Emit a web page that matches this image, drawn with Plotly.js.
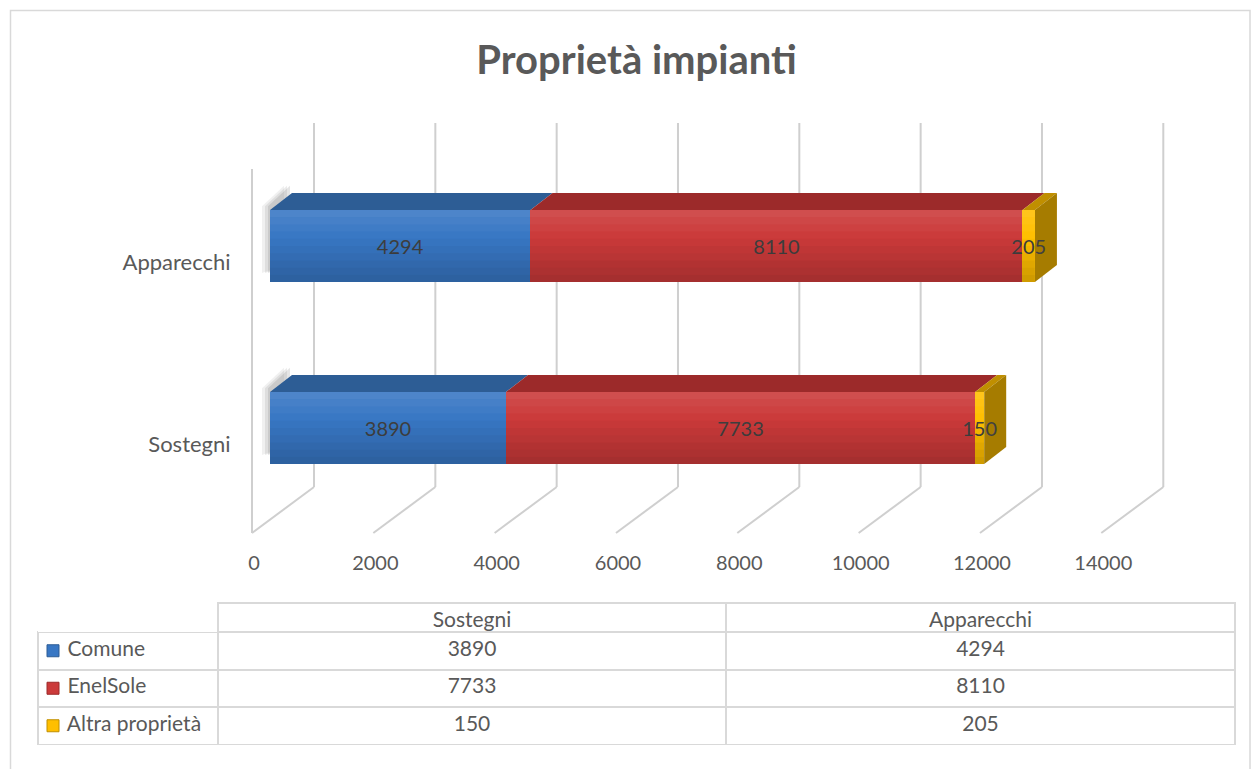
<!DOCTYPE html>
<html>
<head>
<meta charset="utf-8">
<script src="https://cdn.plot.ly/plotly-3.0.1.min.js"></script>
<style>
  html, body { margin: 0; padding: 0; background: #ffffff; }
  #chart { width: 1253px; height: 769px; }
</style>
</head>
<body>
<div id="chart"></div>
<script>
// ---------- data ----------
const categories = ['Sostegni', 'Apparecchi'];
const seriesNames = ['Comune', 'EnelSole', 'Altra proprietà'];
const comune = [3890, 4294];
const enelSole = [7733, 8110];
const altra = [150, 205];
const tickValues = [0, 2000, 4000, 6000, 8000, 10000, 12000, 14000];

// ---------- styling ----------
const W = 1253, H = 769;
const FONT = 'Lato, "Open Sans", sans-serif';
const TXT = '#595959';
const frontColors = ['#3877c4', '#cb3a3a', '#ffbf00'];
const topColors = ['#2d5d95', '#9c2a2a', '#c08f00'];
const sideColor = '#a67c00';
const gridColor = '#cfcfcf';

const px = p => p / W;
const py = p => 1 - p / H;

// plot geometry (pixels)
const ZERO_PX = 270;                    // value 0 on the front plane
const SCALE = 849.3 / 14000;            // px per unit
const R0 = -600, R1 = 15200;            // axis range (extra room for the 3D box)
const Y_TOP = 155, Y_BOT = 519;         // category band
const barWidth = 0.396;
const depthPx = 22, depthPy = 17;
const depthX = depthPx / SCALE;
const depthY = depthPy * 2 / (Y_BOT - Y_TOP);

const seriesValues = [comune, enelSole, altra];

const traces = seriesValues.map((vals, s) => ({
  type: 'bar',
  orientation: 'h',
  name: seriesNames[s],
  y: categories,
  x: vals,
  width: barWidth,
  marker: { color: frontColors[s], line: { width: 0 } },
  text: vals.map(String),
  textposition: 'inside',
  insidetextanchor: 'middle',
  textangle: 0,
  constraintext: 'none',
  textfont: { family: FONT, size: 20, color: '#404040' },
  hoverinfo: 'none',
  showlegend: false
}));

const shapes = [];
// back wall grid lines + floor diagonals
tickValues.forEach(v => {
  shapes.push({
    type: 'line', xref: 'x', xsizemode: 'pixel', xanchor: v, x0: 44, x1: 44,
    yref: 'paper', y0: py(487), y1: py(123), layer: 'below',
    line: { color: gridColor, width: 2 }
  });
  shapes.push({
    type: 'line', xref: 'x', xsizemode: 'pixel', xanchor: v, x0: 44, x1: -18,
    yref: 'paper', y0: py(487), y1: py(533), layer: 'below',
    line: { color: gridColor, width: 2 }
  });
});
// left wall edge
shapes.push({
  type: 'line', xref: 'x', xsizemode: 'pixel', xanchor: 0, x0: -18, x1: -18,
  yref: 'paper', y0: py(533), y1: py(169), layer: 'below',
  line: { color: gridColor, width: 2 }
});

// 3D faces (top faces + right end face) and shading, computed from data
const STRIPS = 10;
categories.forEach((c, i) => {
  let start = 0;
  const yTop = i + barWidth / 2, yBot = i - barWidth / 2;
  // soft shadow at the left end
  [[8, 0.10], [5, 0.14], [2, 0.18]].forEach(([off, a]) => {
    const o = off / SCALE;
    shapes.push({
      type: 'path', xref: 'x', yref: 'y', layer: 'below',
      path: `M ${-o} ${yBot + 0.05} L ${-o} ${yTop + 0.02} L ${depthX - o} ${yTop + depthY + 0.04} L ${depthX - o} ${yBot + depthY} Z`,
      fillcolor: `rgba(110,110,110,${a})`, line: { width: 0 }
    });
  });
  seriesValues.forEach((vals, s) => {
    const a = start, b = start + vals[i];
    shapes.push({
      type: 'path', xref: 'x', yref: 'y', layer: 'below',
      path: `M ${a} ${yTop} L ${b} ${yTop} L ${b + depthX} ${yTop + depthY} L ${a + depthX} ${yTop + depthY} Z`,
      fillcolor: topColors[s], line: { width: 0 }
    });
    start = b;
  });
  shapes.push({
    type: 'path', xref: 'x', yref: 'y', layer: 'below',
    path: `M ${start} ${yBot} L ${start} ${yTop} L ${start + depthX} ${yTop + depthY} L ${start + depthX} ${yBot + depthY} Z`,
    fillcolor: sideColor, line: { width: 0 }
  });
  // vertical shading of the front faces (light at top, darker at bottom)
  for (let k = 0; k < STRIPS; k++) {
    const t = (k + 0.5) / STRIPS;           // 0 = top, 1 = bottom
    const shade = 0.12 - 0.32 * t;
    const fill = shade >= 0 ? `rgba(255,255,255,${shade.toFixed(3)})`
                            : `rgba(0,0,0,${(-shade).toFixed(3)})`;
    shapes.push({
      type: 'rect', xref: 'x', yref: 'y', layer: 'above',
      x0: 0, x1: start,
      y0: yTop - barWidth * k / STRIPS, y1: yTop - barWidth * (k + 1) / STRIPS,
      fillcolor: fill, line: { width: 0 }
    });
  }
});

// outer chart border
shapes.push({
  type: 'rect', xref: 'paper', yref: 'paper',
  x0: px(10.5), x1: px(1250), y0: py(775), y1: py(10.5),
  line: { color: '#d9d9d9', width: 1.5 }, fillcolor: 'rgba(0,0,0,0)', layer: 'below'
});

// data table
const T_TOP = 603, HEAD_H = 29, ROW_H = 37.5;
const T_BOT = T_TOP + HEAD_H + ROW_H * seriesNames.length;
const tableTrace = {
  type: 'table',
  domain: { x: [px(38), px(1235)], y: [py(T_BOT + 1), py(T_TOP)] },
  columnwidth: [180, 508, 509],
  header: {
    values: [''].concat(categories),
    align: ['left', 'center', 'center'],
    height: HEAD_H,
    fill: { color: '#ffffff' },
    line: { color: ['rgba(255,255,255,0)', '#d9d9d9', '#d9d9d9'], width: 2 },
    font: { family: FONT, size: 21, color: TXT }
  },
  cells: {
    values: [seriesNames.map(n => '\u00a0\u00a0\u00a0\u00a0' + n)].concat(
      categories.map((c, i) => seriesValues.map(v => String(v[i])))),
    align: ['left', 'center', 'center'],
    height: ROW_H,
    fill: { color: '#ffffff' },
    line: { color: '#d9d9d9', width: 2 },
    font: { family: FONT, size: 21, color: TXT }
  }
};

// legend keys inside the table's first column
seriesNames.forEach((n, s) => {
  const cy = T_TOP + HEAD_H + ROW_H * (s + 0.5);
  shapes.push({
    type: 'rect', xref: 'paper', yref: 'paper', layer: 'above',
    x0: px(47), x1: px(59), y0: py(cy + 6), y1: py(cy - 6),
    fillcolor: frontColors[s], line: { color: topColors[s], width: 1 }
  });
});

const layout = {
  width: W, height: H,
  margin: { l: 0, r: 0, t: 0, b: 0 },
  paper_bgcolor: '#ffffff',
  plot_bgcolor: 'rgba(0,0,0,0)',
  barmode: 'stack',
  showlegend: false,
  hovermode: false,
  title: {
    text: '<b>Proprietà impianti</b>',
    x: 0.508, xanchor: 'center', xref: 'paper',
    y: py(60), yanchor: 'middle', yref: 'paper',
    font: { family: FONT, size: 40, color: TXT }
  },
  xaxis: {
    domain: [px(ZERO_PX + R0 * SCALE), px(ZERO_PX + R1 * SCALE)],
    range: [R0, R1],
    tickvals: tickValues,
    ticktext: tickValues.map(String),
    showgrid: false, zeroline: false, showline: false,
    ticks: '',
    ticklabelshift: -16,
    ticklabelstandoff: 30,
    tickfont: { family: FONT, size: 20, color: TXT },
    fixedrange: true
  },
  yaxis: {
    domain: [py(Y_BOT), py(Y_TOP)],
    range: [-0.5, 1.5],
    type: 'category',
    showgrid: false, zeroline: false, showline: false,
    ticks: '',
    ticklabelshift: 16,
    ticklabelstandoff: 2,
    tickfont: { family: FONT, size: 22, color: TXT },
    fixedrange: true
  },
  shapes: shapes
};

Plotly.newPlot('chart', traces.concat([tableTrace]), layout, { displayModeBar: false, staticPlot: true });
</script>
</body>
</html>
